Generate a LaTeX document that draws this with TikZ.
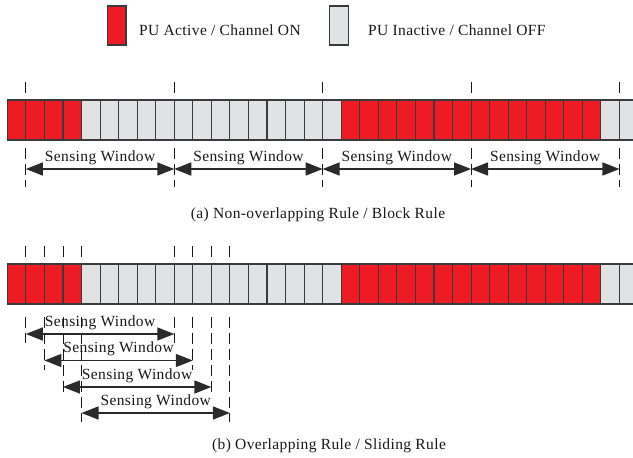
\documentclass[tikz,border=0pt]{standalone}
\usepackage{fontspec}
\setmainfont[LetterSpace=2.5]{Liberation Serif}
\usetikzlibrary{arrows.meta}
\definecolor{pured}{HTML}{ED1C24}
\definecolor{pugray}{HTML}{E1E2E4}
\definecolor{celledge}{HTML}{3A3A3A}
\definecolor{linegray}{HTML}{2A2A2A}
\begin{document}
\begin{tikzpicture}[x=1pt,y=-1pt,
  cell/.style={draw=celledge, line width=1.1pt, minimum width=18.55pt, minimum height=40pt, inner sep=0pt, outer sep=0pt, anchor=north west},
  cellon/.style={cell, fill=pured},
  celloff/.style={cell, fill=pugray},
  legbox/.style={draw=celledge, line width=1.1pt, minimum width=18.7pt, minimum height=39pt, inner sep=0pt},
  tickmark/.style={draw=black!90, line width=0.9pt},
  dtick/.style={tickmark, dash pattern=on 11pt off 5pt},
  win/.style={draw=linegray, line width=1.5pt, {Triangle[length=17pt,width=13pt]}-{Triangle[length=17pt,width=13pt]}},
  lbl/.style={font=\fontsize{15.5}{18}\selectfont, inner sep=0pt, text=black!90}
]
\useasboundingbox (0,0) rectangle (633,458);
\clip (0,0) rectangle (633,458);
\fill[white] (0,0) rectangle (633,458);

% legend
\node[legbox, fill=pured] (legon) at (116.6,25.5) {};
\node[lbl, anchor=base west] (legontext) at (139,35) {PU Active / Channel ON};
\node[legbox, fill=pugray] (legoff) at (338.8,25.5) {};
\node[lbl, anchor=base west] (legofftext) at (368,35) {PU Inactive / Channel OFF};

% bars
\foreach \row/\yy in {a/100, b/264}{
  \foreach \k in {0,...,33}{
    \ifnum\k<4 \def\st{cellon}\else\ifnum\k<18 \def\st{celloff}\else\ifnum\k<32 \def\st{cellon}\else\def\st{celloff}\fi\fi\fi
    \node[\st] (\row\k) at ({7.3+18.55*\k},\yy) {};
  }
}

% (a) non-overlapping
\foreach \k in {1,9,17,25,33}{
  \coordinate (at\k) at ({7.3+18.55*\k},82);
  \coordinate (au\k) at ({7.3+18.55*\k},93);
  \coordinate (ab\k) at ({7.3+18.55*\k},148);
  \coordinate (ae\k) at ({7.3+18.55*\k},187);
  \coordinate (aw\k) at ({7.3+18.55*\k},169);
  \draw[tickmark] (at\k) -- (au\k);
  \draw[dtick] (ab\k) -- (ae\k);
}
\foreach \s/\e/\m in {1/9/5,9/17/13,17/25/21,25/33/29}{
  \draw[win] (aw\s) -- (aw\e);
  \node[lbl, anchor=base] (alab\s) at ({7.3+18.55*\m},161) {Sensing Window};
}
\node[lbl, anchor=base] (capa) at (318,218) {(a) Non-overlapping Rule / Block Rule};

% (b) overlapping
\foreach \k in {1,2,3,4,9,10,11,12}{
  \coordinate (bt\k) at ({7.3+18.55*\k},246);
  \coordinate (bu\k) at ({7.3+18.55*\k},257);
  \draw[tickmark] (bt\k) -- (bu\k);
}
\foreach \n/\yy in {1/334,2/360.5,3/387,4/413}{
  \pgfmathtruncatemacro{\e}{\n+8}
  \pgfmathtruncatemacro{\m}{\n+4}
  \coordinate (bs\n) at ({7.3+18.55*\n},\yy);
  \coordinate (be\n) at ({7.3+18.55*\e},\yy);
  \coordinate (bds\n) at ({7.3+18.55*\n},317);
  \coordinate (bdse\n) at ({7.3+18.55*\n},\yy+9);
  \coordinate (bde\n) at ({7.3+18.55*\e},317);
  \coordinate (bdee\n) at ({7.3+18.55*\e},\yy+9);
  \draw[dtick] (bds\n) -- (bdse\n);
  \draw[dtick] (bde\n) -- (bdee\n);
  \draw[win] (bs\n) -- (be\n);
  \node[lbl, anchor=base] (blab\n) at ({7.3+18.55*\m},\yy-8) {Sensing Window};
}
\node[lbl, anchor=base] (capb) at (329,449) {(b) Overlapping Rule / Sliding Rule};
\end{tikzpicture}
\end{document}
